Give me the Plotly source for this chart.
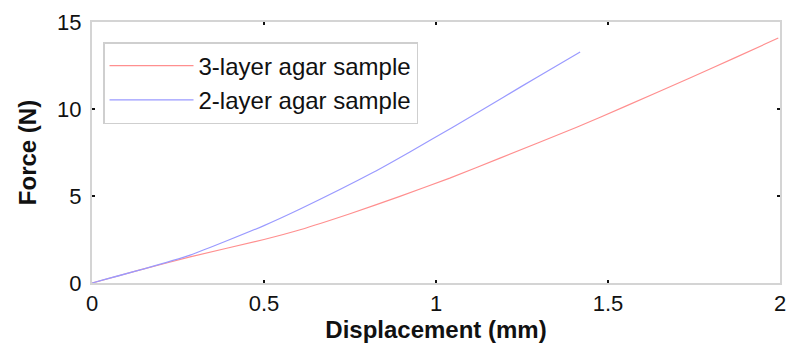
import plotly.graph_objects as go

# 3-layer agar sample
x3 = [0, 0.14, 0.285, 0.5, 0.605, 0.75, 0.895, 1.04, 1.186, 1.409, 1.55, 1.738, 1.87, 1.995]
f3 = [0, 0.75, 1.5, 2.5, 3.06, 3.98, 4.98, 6.03, 7.18, 8.95, 10.15, 11.78, 12.95, 14.08]
# 2-layer agar sample
x2 = [0, 0.14, 0.285, 0.5, 0.605, 0.818, 0.924, 1.05, 1.196, 1.3, 1.419]
f2 = [0, 0.75, 1.6, 3.3, 4.25, 6.36, 7.53, 8.97, 10.68, 11.9, 13.27]

xticks = [0, 0.5, 1, 1.5, 2]
xticklabels = ["0", "0.5", "1", "1.5", "2"]
yticks = [0, 5, 10, 15]
yticklabels = ["0", "5", "10", "15"]

fig = go.Figure()
fig.add_trace(go.Scatter(x=x3, y=f3, mode="lines", name="3-layer agar sample",
                         line=dict(color="#ff8f8f", width=1.2, shape="spline", smoothing=0.6)))
fig.add_trace(go.Scatter(x=x2, y=f2, mode="lines", name="2-layer agar sample",
                         line=dict(color="#9a9aff", width=1.2, shape="spline", smoothing=0.6)))

font = "Liberation Sans, Arial, Helvetica, sans-serif"
axis_common = dict(showgrid=False, zeroline=False, showline=True, linecolor="#d4d4d4",
                   linewidth=2, mirror="ticks", ticks="inside", ticklen=3, tickwidth=2,
                   tickcolor="#111111", automargin=False,
                   tickfont=dict(family=font, size=22, color="#111111"))

fig.update_layout(
    width=794, height=352,
    margin=dict(l=84, r=22, t=14, b=77),
    paper_bgcolor="white", plot_bgcolor="white",
    xaxis=dict(range=[0, 2], tickvals=xticks, ticktext=xticklabels,
               title=dict(text="<b>Displacement (mm)</b>", font=dict(family=font, size=24, color="#111111"),
                          standoff=2),
               **axis_common),
    yaxis=dict(range=[0, 15], tickvals=yticks, ticktext=yticklabels, ticklabelstandoff=4,
               title=dict(text="<b>Force (N)</b>", font=dict(family=font, size=24, color="#111111"),
                          standoff=14),
               **axis_common),
    legend=dict(x=0.016, y=0.923, xanchor="left", yanchor="top",
                bordercolor="#cfcfcf", borderwidth=1.5, bgcolor="white",
                font=dict(family=font, size=24, color="#111111"),
                itemwidth=84, tracegroupgap=0),
    showlegend=True,
)

fig.write_html("out.html")
